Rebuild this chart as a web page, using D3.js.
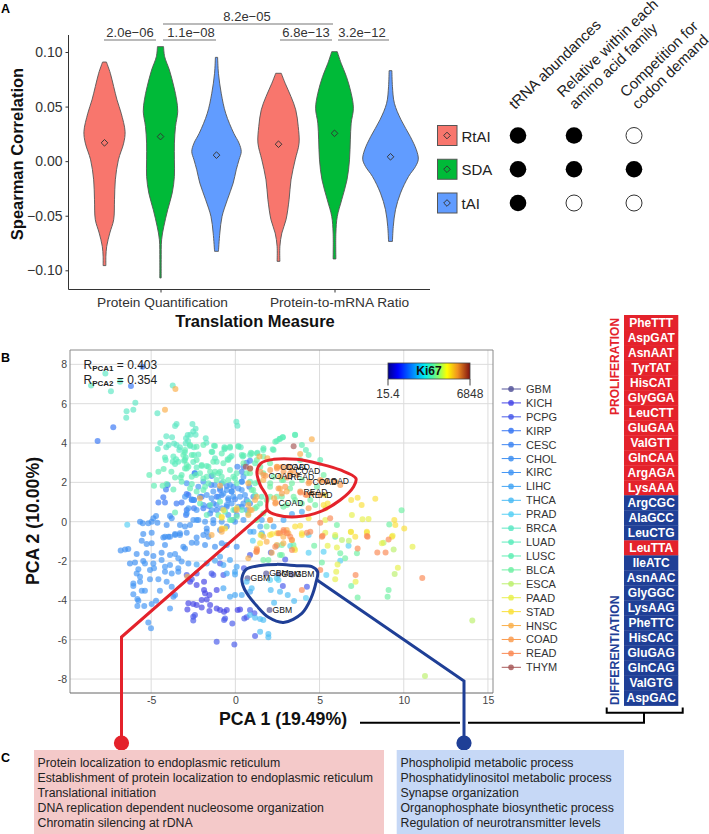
<!DOCTYPE html>
<html><head><meta charset="utf-8">
<script src="https://cdn.jsdelivr.net/npm/d3@7"></script>
<style>html,body{margin:0;background:#fff}svg{display:block}text{font-family:"Liberation Sans",Arial,sans-serif}</style>
</head><body><svg id="c" width="709" height="834"></svg>
<script>
// ---------- Panel A data ----------
const measures=["Protein Quantification","Protein-to-mRNA Ratio"];
const indices=["RtAI","SDA","tAI"];
const indexColors=["#F8766D","#00BA38","#619CFF"];
const meanPQ=[0.0168,0.0225,0.0055];
const meanPM=[0.0155,0.0255,0.0040];
// [correlation, relative density]
const vRtAI_PQ=[[.0908,.07],[.0805,.21],[.0683,.33],[.0561,.45],[.0439,.6],[.0271,.74],[.0165,.69],[.0012,.5],[-.0171,.39],[-.0354,.36],[-.0537,.33],[-.0659,.19],[-.078,.08],[-.0872,.05],[-.0957,.05]];
const vSDA_PQ=[[.1049,.11],[.0957,.15],[.0835,.32],[.0683,.48],[.0561,.58],[.0454,.62],[.0317,.54],[.0165,.5],[.0012,.5],[-.014,.5],[-.0293,.42],[-.0445,.26],[-.0598,.12],[-.072,.04],[-.0902,.025],[-.107,.025]];
const vTAI_PQ=[[.0951,.04],[.0805,.07],[.0622,.17],[.0439,.33],[.0256,.62],[.0165,.81],[.0088,.89],[.0012,.81],[-.0079,.71],[-.0201,.6],[-.0354,.39],[-.0506,.2],[-.0659,.12],[-.0826,.07]];
const vRtAI_PM=[[.0805,.1],[.0713,.24],[.0591,.45],[.047,.62],[.0317,.71],[.0165,.74],[.0012,.6],[-.0171,.45],[-.0354,.38],[-.0537,.27],[-.0659,.12],[-.078,.05],[-.0918,.05]];
const vSDA_PM=[[.1003,.1],[.0896,.24],[.0774,.43],[.0622,.6],[.0485,.68],[.0348,.6],[.0195,.57],[.0012,.54],[-.0171,.45],[-.0354,.26],[-.0506,.1],[-.0659,.05],[-.0896,.05]];
const vTAI_PM=[[.0829,.05],[.0683,.07],[.053,.14],[.0378,.38],[.0226,.71],[.0104,.93],[.0018,1],[-.0049,.9],[-.014,.65],[-.0293,.36],[-.0445,.18],[-.0598,.1],[-.0735,.07]];
const yTicksA=[0.10,0.05,0,-0.05,-0.10];
const methodRows=["tRNA abundances",["Relative within each","amino acid family"],["Competition for","codon demand"]];
const methodMatrix=[[1,1,0],[1,1,1],[1,0,0]];

// ---------- Panel B data ----------
const types=["GBM","KICH","PCPG","KIRP","CESC","CHOL","KIRC","LIHC","THCA","PRAD","BRCA","LUAD","LUSC","BLCA","ESCA","PAAD","STAD","HNSC","COAD","READ","THYM"];
const typeColors=["#55559a","#4646e6","#4a5cea","#3a78f4","#3f86f2","#3f90f2","#4496f5","#45a6f5","#4cbcf5","#58d0f5","#5ee8c4","#5cecbc","#60eeb4","#70f0a4","#bdf06e","#e8f04e","#fae03c","#fab04c","#fa9c50","#fa8a55","#a85a5a"];
const GBM=[[.72,-2.88],[1.83,-2.63],[2.55,-2.68],[3.36,-2.68],[2.03,-4.49]];
const KICH=[[-2.69,-3.05],[-2.3,-3.22],[-1.86,-3.05],[-1.86,-3.47],[-1.8,-3.64],[-2,-3.98],[-1.54,-3.73],[-1.11,-3.47],[-2.79,-4.15],[-2.5,-4.19],[-2.3,-4.24],[-2.85,-4.46],[-2,-4.36],[-1.7,-3.95],[-1.5,-4.24],[-1.54,-4.54],[-1.11,-4.41],[-.91,-4.49],[-.67,-4.58],[-.51,-4.49],[.14,-4.49],[.28,-4.46]];
const PCPG=[[-2.5,-4.83],[-2.4,-4.75],[-2.5,-5.03],[-1.31,-2.71],[-.91,-2.12],[-.71,-2.71],[-1.41,-2.63],[.51,-2.37],[.87,-1.69],[-.18,-5.17],[-.67,-5],[-.61,-4.92],[-1.11,-6.1],[-.06,-6.24],[.53,-4.92],[.67,-4.86],[-2.89,-2.71],[-2.59,-2.93],[-2.3,-2.63],[1.13,-4.66],[.87,-4.49],[1.17,-5.81],[4.25,-3.31],[2.82,-3.27],[2.96,-1.92],[2.11,-1.56]];
const KIRP=[[-2.42,2.46],[-4.02,1.86],[-4.12,1.64],[-2.79,1.36],[-2.89,1.41],[-4.28,1.24],[-4.57,.97],[-4.18,.97],[-3.49,.93],[-3.19,.97],[-2.59,1.1],[-2.46,1.1],[-2.89,.59],[-2.93,.34],[-2.46,.68],[-2,1.27],[-1.41,2.32],[-1.43,1.86],[-1.9,.68],[-1.58,.8],[-1.11,1.27],[-.91,1.61],[-7.25,4.8],[-8.18,4.1],[-6.2,6.9],[-5.52,7.88]];
const CESC=[[-.51,1.81],[-.12,1.78],[-.22,1.53],[-.81,1.36],[-.42,1.1],[-.02,1.14],[-1.31,.93],[-1.5,.42],[-1.11,.59],[-.51,.76],[.12,2.8],[.38,2.54],[.48,2.8],[.67,3],[.87,3.1],[.38,2.03],[.83,1.78],[.67,1.1],[.87,.93],[1.07,1.27],[.38,.76],[-.02,.59]];
const CHOL=[[-5.66,0],[-5.5,-.08],[-5.17,-.08],[-4.97,0],[-4.71,.29],[-4.87,.17],[-4.63,-.05],[-3.88,.29],[-3.78,.17],[-4.08,-.17],[-3.29,-.17],[-2.99,-.25],[-2.69,-.17],[-2.2,.08],[-1.7,-.34],[-1.31,-.08],[-.91,-.42],[-.51,-.25],[-.12,.08],[-5.47,-.63],[-4.97,-.56],[-4.28,-.8],[-3.98,-.76],[-3.58,-.63],[-3.29,-.68],[-2.89,-.56],[-2.3,-.8],[-1.7,-.51],[-6.81,-1.47],[-6.55,-1.41],[-6.36,-1.39],[-5.86,-1.64],[-6.26,-2.12],[-5.96,-2.08],[-5.47,-2],[-5.27,-1.61],[-4.87,-1.75],[-4.38,-1.58],[-4.18,-.76],[-3.88,-.76],[-3.58,-.68],[-3.29,-.59],[-5.56,-.97],[-4.97,-1.1],[-5.27,-1.14],[-4.18,-1.19],[-3.09,-1.27],[-2.99,-1.36],[-2.59,-1.07],[-2.3,-1.07],[-1.8,-1.19],[-1.21,-1.27],[-.81,-1.1],[-.51,-1.19],[.08,-1.27],[-1.9,-.68],[-1.6,-.76]];
const KIRC=[[-4.87,-2.12],[-4.83,-2.37],[-5.37,-2.12],[-4.38,-1.95],[-3.88,-1.69],[-3.58,-1.64],[-3.39,-1.86],[-3.19,-2.03],[-3.88,-2.2],[-3.39,-2.37],[-2.79,-2.12],[-5.76,-2.42],[-5.86,-2.63],[-5.66,-2.8],[-6.06,-3.14],[-6.06,-3.27],[-5.66,-3.05],[-5.07,-2.93],[-4.57,-2.93],[-4.08,-3.05],[-3.78,-2.63],[-3.39,-2.54],[-3.78,-3.31],[-5.56,-3.51],[-5.37,-3.51],[-6.06,-3.69],[-5.82,-3.93],[-5.76,-4.02],[-5.82,-4.29],[-5.41,-4.29],[-4.97,-4.19],[-4.71,-4.02],[-4.48,-3.51],[-3.58,-3.73],[-3.68,-3.81],[-3.88,-4.41],[-5.17,-5.12],[-5.01,-5.42],[-4.18,-2.54],[-5.07,-2.46],[-4.18,-2.29],[-2.4,2.46],[-2.89,1.95],[-2.2,1.78],[-1.9,2.03],[-1.21,1.86],[-.81,1.95],[-.32,1.86],[.38,2.03],[.48,2.29],[-1.31,1.53],[-.91,1.69],[-.51,1.61],[-.22,1.53],[.18,1.69],[.38,1.61],[-2.59,1.14],[-2.46,1.1],[-2.99,1.27],[-2.1,1.27],[-1.7,1.36],[-1.41,1.19],[-1.01,1.27],[-.71,1.44],[-.42,1.19],[-.12,1.27],[.28,1.27],[.57,1.36],[-2.79,.68],[-2.89,.42],[-2.3,.59],[-1.9,.85],[-1.41,.59],[-1.11,.85],[-.81,.68],[-.51,.85],[-.22,.93],[.18,.76],[.48,.93],[.67,.59],[-2.5,.08],[-2.3,.08],[-1.8,0],[-1.31,.08],[-.81,0],[-.42,.34],[.08,.34],[.48,.08],[-.02,0]];
const LIHC=[[-2.3,-2.17],[-1.7,-2.12],[-1.21,-1.98],[-.91,-1.78],[-.71,-2.2],[-.32,-1.95],[-.02,-2.54],[-.02,-2.68],[-.51,-2.63],[-.71,-3.39],[-.32,-3.81],[-.02,-3.73],[.38,-3.73],[.87,-3.56],[.08,-2.29],[3.36,.39],[3.95,.51],[2.86,.08],[1.57,.08],[1.48,-.25],[.88,-.51],[1.08,-.51],[2.27,-.25],[1.57,-.59]];
const THCA=[[1.47,-5.59],[1.96,-5.71],[1.96,-5.88],[.87,-4.75],[1.17,-4.88],[1.47,-4.95],[1.66,-5],[.67,-3.05],[.97,-3.39],[2.1,-3.47],[2.3,-4.12],[2.65,-3.56],[3.11,-3.73],[3.49,-4.03]];
const PRAD=[[2.06,-2.97],[2.46,-2.88],[2.56,-2.97],[4.19,-3.88],[4.35,-1.58],[5.4,-2.71],[6.23,-1.98],[6.72,-1.22],[5.24,-1.53],[4.35,-.68],[3.26,-1.24],[2.47,-1.22],[1.04,-.97],[-6.42,-.15]];
const BRCA=[[-8.57,6.92],[-7.72,7.54],[-7.39,6.63],[-6.85,7.12],[-5.94,6.05],[-6.46,5.61],[-6.06,5.69],[-6.48,5.29],[-4.63,5.51],[-3.72,6.93],[-3.49,4.97],[-3.58,4.86],[-2.55,4.97],[-2.36,4.73],[-2.5,4.58],[-2.67,4.42],[-4.1,4.34],[-3.76,4.29],[-2.83,4.41],[-2.93,4.24],[-2.81,4.1],[-2.36,4.42],[-1.76,4.24],[-1.72,4.02],[-4.46,4],[-3.96,3.9],[-4.1,3.78],[-4.61,3.69],[-3.64,3.98],[-3.49,3.9],[-3.29,3.78],[-3.33,3.64],[-2.95,3.98],[-2.69,3.85],[-2.46,3.78],[-1.27,3.86],[-1.37,3.54],[-.65,3.78],[-.65,3.68],[-.32,3.76],[.18,3.85],[.32,3.78],[.06,5.08],[.12,4.88]];
const LUAD=[[-4.18,3.27],[-4.14,3.14],[-3.68,3.31],[-3.52,3.17],[-3.39,3.05],[-3.72,3.05],[-3.58,2.93],[-3.01,3.53],[-2.46,3.39],[-2.2,3.42],[-2.95,3.27],[-3.05,3.1],[-2.5,3.03],[-2.3,2.76],[-2,2.83],[-1.7,2.83],[-1.21,3.22],[-1.11,3.05],[-.32,3.27],[-.22,3.34],[-.46,3.17],[.44,3.32],[.87,3.39],[1.31,3.51],[1.66,3.64],[2.22,3.68],[2.46,4.1],[2.65,4.22],[2.81,4.29],[3.54,4.42]];
const LUSC=[[-4.26,2.68],[-4.57,2.54],[-3.8,2.54],[-5.11,2.37],[-4.83,1.83],[-4.32,1.83],[-4.08,1.92],[-3.68,1.64],[-3.58,2.25],[-3.25,2.25],[-3.19,2.03],[-2.89,2.88],[-2.79,2.8],[-2.99,2.71],[-2.59,2.29],[-2.34,2.37],[-2.59,1.92],[-2.3,1.53],[-1.8,1.78],[-1.5,2.54],[-1.31,2.37],[-1.01,2.46],[-.81,2.29],[-.71,2.03],[-.12,2.29],[.08,1.95],[-1.7,2.29],[-1.11,2.12],[-1.9,2.2],[-3.58,.47],[3.55,4.41],[2.82,4.29],[2.62,4.2],[2.37,4.07],[2.27,3.64],[1.67,3.73],[1.28,3.47],[.92,3.51],[.49,3.36],[3.95,3.9],[4.19,3.64],[4.35,3.39],[3.85,3.14],[5.04,3.14],[-2.99,3.64],[-2.69,3.9],[-2.3,3.81],[-1.9,3.9],[-1.21,3.85],[-.32,3.81],[-.61,3.73],[.18,3.81],[-1.41,3.56],[-.81,3.47],[-3.09,3.39],[-2.59,3.39],[-2.3,3.14],[-2,2.88],[-2.99,3.14],[-1.31,3.05],[-1.6,2.8],[-.71,2.97],[-.42,3.14],[.38,3.39],[.97,3.47],[1.17,2.97],[-.91,2.54],[-1.21,2.54],[-2.1,2.46],[-2.89,2.71],[-3.19,2.37],[-.32,2.63],[.08,2.46],[.67,2.46],[.87,2.03],[1.17,1.95],[-.42,2.12],[-.02,2.2],[-1.6,1.95],[-2.69,1.69],[-1.9,1.61],[.97,1.61],[1.17,1.36],[.77,1.02],[1.47,.93],[-.91,1.02],[-1.5,.85],[-2.1,.93],[-.61,.51],[-.12,.59],[-1.01,.34],[.38,.59],[-.32,.08],[-1.7,.34],[1.17,.68],[1.56,1.27]];
const BLCA=[[1.27,3.14],[1.66,3.31],[2.06,2.97],[.48,2.97],[.87,2.46],[1.37,2.03],[1.66,2.46],[2.06,1.78],[2.46,1.27],[2.85,2.12],[3.25,1.69],[1.07,1.61],[.77,.42],[1.27,.76],[1.66,.42],[.08,.25],[-.22,.08],[1.86,1.1],[2.85,.76],[3.54,1.1],[1.27,.08],[1.86,-.25],[1.48,2.8],[2.27,2.29],[2.76,2.12],[2.07,1.95],[3.36,1.95],[3.95,2.12],[4.84,1.78],[3.46,1.27],[2.76,1.27],[3.95,.93],[4.74,.85],[2.07,1.27],[3.06,.85],[4.45,1.1],[5.24,2.37],[5.14,-2.07],[4.68,-1.22],[6.52,-1.86],[7.22,-1.61],[6.23,-1.61],[2.76,-1.19],[2.76,-1.69],[1.66,-1.95],[2.65,-1.69],[1.96,-1.95],[3.45,-1.19],[1.56,-.68],[6.03,-.17],[5.93,-.76],[9.14,-.14],[9.87,.58],[6.88,-3.27],[7.26,-3.86],[9.04,-3.81],[9.1,-3.47]];
const ESCA=[[9.46,-2.66],[9.4,-1.41],[8.8,-1.07],[6.74,-.97],[14.07,-5.03],[11.26,-7.85],[6.33,-.93],[3.5,-1.36]];
const PAAD=[[9.65,-2.34],[10.52,-1.27],[8.7,-1.1],[9.34,-.71],[7.81,-.56],[6.86,-.51],[6.03,-1.31],[5.48,-1.22],[5.34,-.56],[5.93,-.68],[7.14,-3.05],[5.93,-2.93],[5.99,-2.54],[6.07,-2.17],[5.36,.68],[5.34,.08],[6.92,.34],[7.55,.12],[7.91,.14]];
const STAD=[[3.95,-.68],[2.17,-.63],[2.47,-.59],[5.34,1.36],[5.48,.93],[5.24,.85],[6.88,1.1],[7.26,1.22],[7.5,.85],[8.31,1.17],[9.44,.08],[9.5,-.17],[10.03,-.34],[4.35,.17],[3.85,-.2],[3.55,-.25],[3.95,-.59],[6.86,-.53],[7.81,-.51],[7.12,-.76],[9.3,-.76],[1.47,-1.1],[2.06,-.68],[3.35,-.93],[3.54,-1.44],[1.5,-.68],[-.81,.2],[-.71,.59],[-.81,.25],[.08,.68],[-.61,-.34],[-.81,-.34]];
const HNSC=[[4.54,4.19],[3.85,3.44],[1.43,3.31],[1.9,3.22],[.87,2.71],[2.3,1.19],[2.65,1.69],[3.05,1.53],[2.46,2.8],[1.66,2.12],[2.65,2.29],[.87,.59],[1.27,1.27],[-.81,-.39],[-2.1,1.19],[-.91,1.83],[.08,.59],[.77,.85],[1.66,-.76],[2.65,-.59],[3.05,-.42],[2.06,.08],[-3.56,6.75],[-4.18,5.69],[-1.41,-.68],[-.81,-.51],[1.27,-1.36],[1.27,-1.53],[.77,-1.86],[1.86,-1.02],[2.16,-1.58],[2.46,-1.19],[2.85,-1.1],[3.15,-.59],[2.85,-.76],[-2.85,-2.8],[.77,1.95],[1.17,1.1],[.97,.59],[.77,.34]];
const COAD=[[2.49,2.78],[2.78,2.78],[1.79,2.34],[3.38,2.59],[4.4,2.03],[5.1,2.07],[2.39,.97],[1.67,2.37],[2.07,2.63],[1.48,2.54],[2.47,2.71],[2.86,2.54],[3.16,2.8],[3.65,2.37],[4.35,1.95],[5.04,2.12],[5.44,2.03],[6.23,1.86],[5.93,2.03],[3.85,1.53],[4.25,1.36],[4.54,1.44],[5.04,1.36],[2.56,1.69],[2.96,1.78],[2.37,.93],[4.35,.68],[2.76,1.44],[3.26,2.46]];
const READ=[[3.08,2.25],[3.87,1.49],[4.17,1.37],[5.63,.17],[5.04,-.05],[4.45,-.51],[5.14,-.76],[2.86,-.42],[2.56,-.59],[2.07,.08],[3.26,-.76],[7.85,-.76],[7.14,-2.71],[11.1,-2.86],[3.95,-3.47],[5.04,-2.46],[8.43,-1.56],[8.92,-1.56],[9.1,-.9],[7.81,-.73],[7.26,-1.36],[5.18,-.71],[4.25,-.56],[3.06,-.59],[2.37,-1.27],[1.28,-1.44],[1.24,-1.53],[2.86,-.51],[3.36,-.93],[3.36,-1.44]];
const THYM=[[3.46,3.83],[.62,2.8],[.88,2.71]];
const pointSets=[GBM,KICH,PCPG,KIRP,CESC,CHOL,KIRC,LIHC,THCA,PRAD,BRCA,LUAD,LUSC,BLCA,ESCA,PAAD,STAD,HNSC,COAD,READ,THYM];
const labelledGBM=GBM;
const labelledCOAD=COAD.slice(0,7);
const labelledREAD=READ.slice(0,3);
const xTicksB=[-5,0,5,10,15];
const yTicksB=[-8,-6,-4,-2,0,2,4,6,8];
const redOutline=[[1.28,2.54],[1.51,2.97],[2.27,3.17],[3.65,3.17],[5.04,2.93],[6.23,2.63],[7.16,2.2],[7.02,1.78],[6.23,1.1],[5.04,.51],[3.65,.25],[2.47,.34],[1.91,.59],[1.87,1.27],[1.48,1.86]];
const blueOutline=[[.39,-2.88],[.64,-2.42],[1.38,-2.24],[2.47,-2.17],[3.65,-2.24],[4.54,-2.29],[4.88,-2.54],[4.8,-3.05],[4.49,-3.9],[3.95,-4.66],[2.86,-5.12],[1.97,-4.86],[1.28,-4.29],[.68,-3.64],[.44,-3.22]];

// ---------- Codons and GO terms ----------
const codons=["PheTTT","AspGAT","AsnAAT","TyrTAT","HisCAT","GlyGGA","LeuCTT","GluGAA","ValGTT","GlnCAA","ArgAGA","LysAAA","ArgCGC","AlaGCC","LeuCTG","LeuTTA","IleATC","AsnAAC","GlyGGC","LysAAG","PheTTC","HisCAC","GluGAG","GlnCAG","ValGTG","AspGAC"];
const proliferationCodons=["PheTTT","AspGAT","AsnAAT","TyrTAT","HisCAT","GlyGGA","LeuCTT","GluGAA","ValGTT","GlnCAA","ArgAGA","LysAAA","LeuTTA"];
const goRed=["Protein localization to endoplasmic reticulum","Establishment of protein localization to endoplasmic reticulum","Translational initiation","DNA replication dependent nucleosome organization","Chromatin silencing at rDNA"];
const goBlue=["Phospholipid metabolic process","Phosphatidylinositol metabolic process","Synapse organization","Organophosphate biosynthetic process","Regulation of neurotransmitter levels"];

const RED="#e4222b",BLUE="#1f3f96";
const svg=d3.select("#c");
const T=(s,x,y,o={})=>svg.append("text").attr("x",x).attr("y",y).attr("font-size",o.fs||12).attr("font-weight",o.b?"bold":null).attr("fill",o.c||"#222").attr("text-anchor",o.a||"start").attr("dominant-baseline","central").attr("transform",o.r!=null?`rotate(${o.r} ${x} ${y})`:null).text(s);

// panel letters
T("A",1,9,{b:1,fs:12.5,c:"#000"});T("B",1,358,{b:1,fs:12.5,c:"#000"});T("C",1,758,{b:1,fs:12.5,c:"#000"});

// ---------- Panel A ----------
const yA=d3.scaleLinear().domain([-0.10,0.10]).range([270.3,52]);
const xA=d3.scalePoint().domain(measures).range([160.5,334.5]);
const dodge=d3.scalePoint().domain(indices).range([-56,56]);
const wA=d3.scaleLinear().domain([0,1]).range([0,27.8]);
const gA=svg.append("g");
gA.append("g").attr("transform","translate(68.5,0)").call(d3.axisLeft(yA).tickValues(yTicksA).tickFormat(d=>d3.format(".2f")(d).replace("-","\u2212")).tickSize(3).tickPadding(3))
 .call(g=>{g.select(".domain").attr("d","M0,35V289.5").attr("stroke","#333");g.selectAll("text").attr("font-size",14).attr("fill","#333").attr("font-family","Liberation Sans");g.selectAll("line").attr("stroke","#333")});
gA.append("g").attr("transform","translate(0,289.5)").call(d3.axisBottom(xA).tickSize(3).tickPadding(5))
 .call(g=>{g.select(".domain").attr("d","M68.5,0H430").attr("stroke","#333");g.selectAll("text").attr("font-size",13.7).attr("fill","#333").attr("font-family","Liberation Sans").attr("dx",(d,i)=>i?4.5:1.5);g.selectAll("line").attr("stroke","#333")});
T("Spearman Correlation",17,154,{b:1,fs:16.5,c:"#111",a:"middle",r:-90});
T("Translation Measure",255,321,{b:1,fs:16.5,c:"#111",a:"middle"});
const violins=[[vRtAI_PQ,vSDA_PQ,vTAI_PQ],[vRtAI_PM,vSDA_PM,vTAI_PM]];
const means=[meanPQ,meanPM];
const diamond=d3.symbol().type(d3.symbolSquare).size(22);
violins.forEach((set,mi)=>set.forEach((v,i)=>{
  const cx=xA(measures[mi])+dodge(indices[i]);
  const area=d3.area().y(d=>yA(d[0])).x0(d=>cx-wA(d[1])).x1(d=>cx+wA(d[1])).curve(d3.curveCatmullRom);
  gA.append("path").attr("d",area(v)+"Z").attr("fill",indexColors[i]).attr("stroke","#555").attr("stroke-width",.9);
  gA.append("path").attr("d",diamond()).attr("transform",`translate(${cx},${yA(means[mi][i])}) rotate(45)`).attr("fill","none").attr("stroke","#333").attr("stroke-width",.9);
}));
const brackets=[["2.0e\u221206",104,156,40],["1.1e\u221208",163,216,40],["6.8e\u221213",280,332,40],["3.2e\u221212",338,389,40],["8.2e\u221205",163,333,24]];
const bracketTextX=[130,191,306,362,247];
brackets.forEach((b,i)=>{
  svg.append("line").attr("x1",b[1]).attr("x2",b[2]).attr("y1",b[3]).attr("y2",b[3]).attr("stroke","#777").attr("stroke-width",1.2);
  T(b[0],bracketTextX[i],b[3]-7.5,{fs:13,c:"#333",a:"middle"});
});
// method table
const rowY=d3.scalePoint().domain(indices).range([135.5,203]);
const colXs=[518,574,634];
indices.forEach((n,i)=>{
  svg.append("rect").attr("x",437.5).attr("y",rowY(n)-10).attr("width",19.5).attr("height",20).attr("fill",indexColors[i]).attr("stroke","#555").attr("stroke-width",1);
  svg.append("path").attr("d",diamond()).attr("transform",`translate(447,${rowY(n)}) rotate(45)`).attr("fill","none").attr("stroke","#333").attr("stroke-width",.9);
  T(n,461.5,rowY(n)+.5,{fs:15,c:"#222"});
  methodMatrix[i].forEach((m,j)=>svg.append("circle").attr("cx",colXs[j]).attr("cy",rowY(n)).attr("r",m?8.3:8).attr("fill",m?"#000":"#fff").attr("stroke",m?"none":"#333").attr("stroke-width",1));
});
const H=(s,x,y)=>svg.append("text").attr("transform",`translate(${x},${y}) rotate(-44)`).attr("font-size",15).attr("fill","#222").text(s);
H(methodRows[0],515,110);H(methodRows[1][0],563,98);H(methodRows[1][1],575,110);H(methodRows[2][0],626,98);H(methodRows[2][1],638,110);

// ---------- Panel B ----------
const xB=d3.scaleLinear().domain([-9.82,15.3]).range([70,493]);
const yB=d3.scaleLinear().domain([-8.71,8.73]).range([693,350]);
const gB=svg.append("g");
gB.selectAll(".gy").data(yTicksB).join("line").attr("x1",70).attr("x2",493).attr("y1",d=>yB(d)).attr("y2",d=>yB(d)).attr("stroke","#dcdcdc").attr("stroke-width",1);
gB.selectAll(".gx").data(xTicksB).join("line").attr("y1",350).attr("y2",693).attr("x1",d=>xB(d)).attr("x2",d=>xB(d)).attr("stroke","#dcdcdc").attr("stroke-width",1);
gB.append("g").attr("transform","translate(70,0)").call(d3.axisLeft(yB).tickValues(yTicksB).tickFormat(d=>d).tickSize(0).tickPadding(3))
 .call(g=>{g.select(".domain").remove();g.selectAll("text").attr("font-size",10.5).attr("fill","#444").attr("font-family","Liberation Sans")});
gB.append("g").attr("transform","translate(0,693)").call(d3.axisBottom(xB).tickValues(xTicksB).tickFormat(d=>d).tickSize(0).tickPadding(4))
 .call(g=>{g.select(".domain").remove();g.selectAll("text").attr("font-size",10.5).attr("fill","#444").attr("font-family","Liberation Sans")});
pointSets.forEach((pts,i)=>gB.append("g").selectAll("circle").data(pts).join("circle").attr("cx",d=>xB(d[0])).attr("cy",d=>yB(d[1])).attr("r",3).attr("fill",typeColors[i]).attr("fill-opacity",.68));
gB.append("path").attr("d","M70,693V350H493V693").attr("fill","none").attr("stroke","#8a8a8a").attr("stroke-width",1);
gB.append("path").attr("d","M70,693H493").attr("fill","none").attr("stroke","#666").attr("stroke-width",1);
const lab=(pts,s)=>pts.forEach(p=>T(s,xB(p[0])+3,yB(p[1]),{fs:8.6,c:"#111"}));
lab(labelledGBM,"GBM");lab(labelledCOAD,"COAD");lab(labelledREAD,"READ");
// R texts
const Rt=(sub,val,y)=>{const t=svg.append("text").attr("x",83.5).attr("y",y).attr("font-size",12).attr("fill","#222");t.append("tspan").text("R");t.append("tspan").attr("font-size",8).attr("font-weight","bold").attr("dy",2).text(sub);t.append("tspan").attr("dy",-2).text(" = "+val);};
Rt("PCA1","0.403",369);Rt("PCA2","0.354",383.7);
T("PCA 1 (19.49%)",283,719,{b:1,fs:17.7,c:"#111",a:"middle"});
T("PCA 2 (10.00%)",33,521,{b:1,fs:17.7,c:"#111",a:"middle",r:-90});
// colour bar
const grad=svg.append("defs").append("linearGradient").attr("id","jet");
[["0","#00008c"],["0.12","#0000ff"],["0.35","#00aaff"],["0.45","#00eeee"],["0.62","#88ff66"],["0.72","#ffff00"],["0.85","#f09020"],["1","#7f1010"]].forEach(s=>grad.append("stop").attr("offset",s[0]).attr("stop-color",s[1]));
svg.append("rect").attr("x",388).attr("y",363).attr("width",82).attr("height",16).attr("fill","url(#jet)").attr("stroke","#444").attr("stroke-width",.8);
svg.append("path").attr("d","M388,379V385.5M470,379V385.5").attr("stroke","#444").attr("fill","none");
T("Ki67",429,371,{b:1,fs:12,c:"#111",a:"middle"});
T("15.4",388,393.5,{fs:12,c:"#333",a:"middle"});T("6848",470,393.5,{fs:12,c:"#333",a:"middle"});
// legend
const yL=d3.scalePoint().domain(types).range([389,667.3]);
types.forEach((n,i)=>{
  svg.append("line").attr("x1",501.7).attr("x2",521).attr("y1",yL(n)).attr("y2",yL(n)).attr("stroke",typeColors[i]).attr("stroke-width",1);
  svg.append("circle").attr("cx",511).attr("cy",yL(n)).attr("r",2.9).attr("fill",typeColors[i]).attr("fill-opacity",.85);
  T(n,526,yL(n),{fs:11,c:"#333"});
});
// outlines and connectors
const outline=d3.line().x(d=>xB(d[0])).y(d=>yB(d[1])).curve(d3.curveCatmullRomClosed);
svg.append("path").attr("d","M360,722.7H460M468,722.7H644V712.7M606.7,707.5V712.7H682.7V707.5").attr("fill","none").attr("stroke","#000").attr("stroke-width",2);
svg.append("path").attr("d",outline(redOutline)).attr("fill","none").attr("stroke",RED).attr("stroke-width",3);
svg.append("path").attr("d",outline(blueOutline)).attr("fill","none").attr("stroke",BLUE).attr("stroke-width",3);
svg.append("path").attr("d","M267,510L121.5,637V743").attr("fill","none").attr("stroke",RED).attr("stroke-width",3);
svg.append("path").attr("d","M317,580L464,681V743").attr("fill","none").attr("stroke",BLUE).attr("stroke-width",3);
svg.append("circle").attr("cx",121.5).attr("cy",743).attr("r",7.6).attr("fill",RED);
svg.append("circle").attr("cx",464).attr("cy",743).attr("r",7.6).attr("fill",BLUE);
// codon table
const yC=d3.scaleBand().domain(codons).range([315,705.6]);
svg.selectAll(".cr").data(codons).join("rect").attr("x",624).attr("width",54.3).attr("y",d=>yC(d)).attr("height",yC.bandwidth()+.3).attr("fill",d=>proliferationCodons.includes(d)?RED:BLUE);
codons.forEach(c=>T(c,651.2,yC(c)+yC.bandwidth()/2,{b:1,fs:12,c:"#fff",a:"middle"}));
T("PROLIFERATION",615.3,415,{b:1,fs:12,c:RED,r:-90});
T("DIFFERENTIATION",615.3,705,{b:1,fs:12.3,c:BLUE,r:-90});
// GO boxes
svg.append("rect").attr("x",34).attr("y",750).attr("width",350).attr("height",84).attr("fill","#f4c9c9");
svg.append("rect").attr("x",396.7).attr("y",750).attr("width",227.3).attr("height",84).attr("fill","#c6d8f6");
const rowGo=d3.scaleLinear().domain([0,4]).range([762.5,822.5]);
goRed.forEach((s,i)=>T(s,37.5,rowGo(i),{fs:12.3,c:"#222"}));
goBlue.forEach((s,i)=>T(s,400.5,rowGo(i),{fs:12.3,c:"#222"}));
</script></body></html>
